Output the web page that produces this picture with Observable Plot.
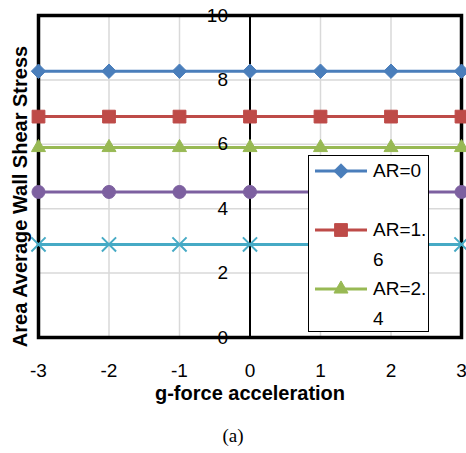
<!DOCTYPE html>
<html>
<head>
<meta charset="utf-8">
<script src="https://cdn.jsdelivr.net/npm/d3@7"></script>
<script src="https://cdn.jsdelivr.net/npm/@observablehq/plot@0.6"></script>
<style>
  html, body { margin: 0; padding: 0; background: #fff; }
  #wrap { position: relative; width: 466px; height: 453px; font-family: "Liberation Sans", Arial, sans-serif; }
  #legend { position: absolute; left: 308px; top: 155px; width: 121px; height: 177px; border: 1px solid #000; background: #fff; overflow: hidden; box-sizing: border-box; }
  .entry { display: flex; align-items: flex-start; }
  .entry svg { flex: none; margin-left: 6px; }
  .entry .lbl { font-size: 19px; line-height: 29.5px; margin-left: 6px; color: #000; }
</style>
</head>
<body>
<div id="wrap"></div>
<script>
// ---- data ----
const gForce = [-3, -2, -1, 0, 1, 2, 3];
const seriesNames = ["AR=0", "AR=1.6", "AR=2.4", "AR=3.2", "AR=4"];
const ar0  = [8.27, 8.27, 8.27, 8.27, 8.27, 8.27, 8.27];
const ar16 = [6.86, 6.86, 6.86, 6.86, 6.86, 6.86, 6.86];
const ar24 = [5.90, 5.90, 5.90, 5.90, 5.90, 5.90, 5.90];
const ar32 = [4.52, 4.52, 4.52, 4.52, 4.52, 4.52, 4.52];
const ar40 = [2.89, 2.89, 2.89, 2.89, 2.89, 2.89, 2.89];
const xTicks = [-3, -2, -1, 0, 1, 2, 3];
const yTicks = [0, 2, 4, 6, 8, 10];
const colors = ["#4A7EBB", "#BE4B48", "#98B954", "#7D60A0", "#46AAC5"];
const symbols = ["diamond2", "square", "triangle", "circle", "times"];
const radii = [6.5, 7.2, 5.2, 6.5, 6.5];
const legendCount = 3; // entries visible inside the legend box

const valuesList = [ar0, ar16, ar24, ar32, ar40];
const rows = [];
seriesNames.forEach((s, i) => valuesList[i].forEach((v, j) => rows.push({series: s, idx: i, x: gForce[j], y: v})));

const fontSans = "Liberation Sans, Arial, sans-serif";
const marks = [
  Plot.ruleY(yTicks.filter(d => d > 0 && d < 10), {y: d => d, stroke: "#d9d9d9", strokeWidth: 1.5}),
  Plot.ruleX(xTicks.filter(d => d !== 0 && Math.abs(d) < 3), {x: d => d, stroke: "#d9d9d9", strokeWidth: 1.5}),
  Plot.ruleX([0], {x: d => d, stroke: "#000", strokeWidth: 2}),
  Plot.frame({stroke: "#000", strokeWidth: 3.5}),
];
seriesNames.forEach((s, i) => {
  const data = rows.filter(r => r.idx === i);
  marks.push(Plot.line(data, {x: "x", y: "y", stroke: colors[i], strokeWidth: 3}));
  const isStroke = symbols[i] === "times";
  marks.push(Plot.dot(data, {
    x: "x", y: "y", symbol: () => symbols[i], r: radii[i],
    fill: isStroke ? "none" : colors[i],
    stroke: colors[i], strokeWidth: isStroke ? 2 : 1
  }));
});
marks.push(
  Plot.text(yTicks, {x: 0, y: d => d, text: d => String(d), textAnchor: "end", dx: -22, fontSize: 19, fill: "#000", fontFamily: fontSans}),
  Plot.text(xTicks, {x: d => d, frameAnchor: "bottom", dy: 33, text: d => String(d), lineAnchor: "middle", fontSize: 19, fill: "#000", fontFamily: fontSans}),
  Plot.text(["g-force acceleration"], {frameAnchor: "bottom", dy: 56, lineAnchor: "middle", fontSize: 20, fontWeight: "bold", fill: "#000", fontFamily: fontSans}),
  Plot.text(["Area Average Wall Shear Stress"], {frameAnchor: "left", dx: -18, dy: 20, rotate: -90, textAnchor: "middle", lineAnchor: "middle", fontSize: 20, fontWeight: "bold", fill: "#000", fontFamily: fontSans}),
  Plot.text(["(a)"], {frameAnchor: "bottom", dx: -17, dy: 98, lineAnchor: "middle", fontSize: 19, fill: "#000", fontFamily: "Liberation Serif, Times New Roman, serif"})
);

const chart = Plot.plot({
  width: 466, height: 453,
  marginLeft: 38, marginRight: 5, marginTop: 15, marginBottom: 116,
  x: {domain: [-3, 3], axis: null},
  y: {domain: [0, 10], axis: null},
  style: {fontFamily: fontSans, background: "#fff", overflow: "visible"},
  marks
});
const wrap = document.getElementById("wrap");
wrap.appendChild(chart);

// ---- legend ----
const legend = document.createElement("div");
legend.id = "legend";
seriesNames.slice(0, legendCount).forEach((name, i) => {
  const lines = name.length > 5 ? [name.slice(0, 5), name.slice(5)] : [name, "\u00a0"];
  const entry = document.createElement("div");
  entry.className = "entry";
  const sym = d3.create("svg").attr("width", 52).attr("height", 30);
  sym.append("line").attr("x1", 0).attr("x2", 52).attr("y1", 15).attr("y2", 15).attr("stroke", colors[i]).attr("stroke-width", 3);
  const sType = {diamond2: d3.symbolDiamond2, square: d3.symbolSquare, triangle: d3.symbolTriangle, circle: d3.symbolCircle, times: d3.symbolTimes}[symbols[i]];
  sym.append("path").attr("transform", "translate(26,15)")
    .attr("d", d3.symbol(sType, Math.PI * radii[i] * radii[i])())
    .attr("fill", colors[i]).attr("stroke", colors[i]);
  entry.appendChild(sym.node());
  const lbl = document.createElement("div");
  lbl.className = "lbl";
  lbl.innerHTML = lines.map(l => `<div>${l}</div>`).join("");
  entry.appendChild(lbl);
  legend.appendChild(entry);
});
wrap.appendChild(legend);
</script>
</body>
</html>
